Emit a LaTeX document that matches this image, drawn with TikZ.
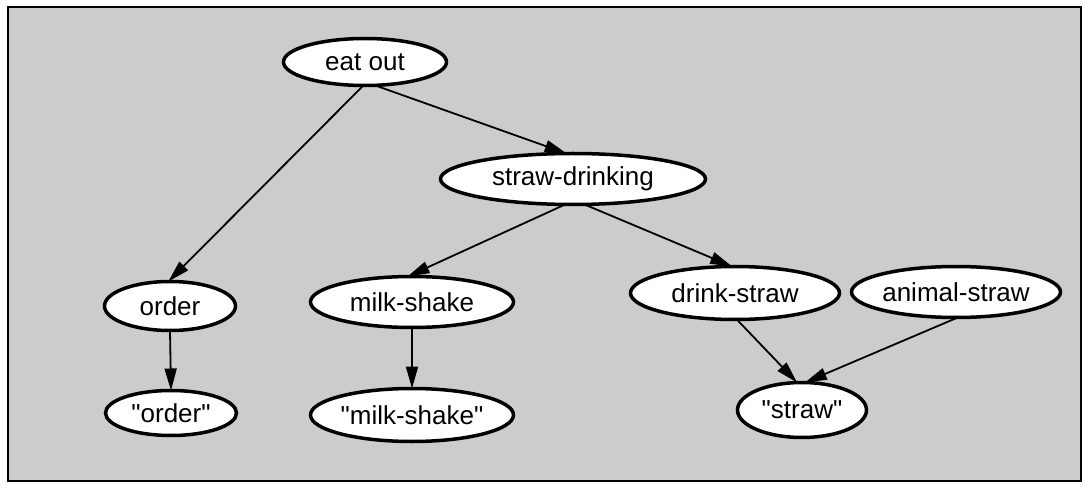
\documentclass[tikz,border=0pt]{standalone}
\usepackage{fontspec}
\setmainfont{Liberation Sans}
\usetikzlibrary{shapes.geometric,arrows.meta}
\definecolor{bggray}{HTML}{CCCCCC}
\tikzset{
  gnode/.style={ellipse, draw=black, fill=white, line width=3.5pt, inner sep=0pt, outer sep=0pt,
    font=\fontsize{26}{30}\selectfont},
  gedge/.style={line width=1.8pt, -{Triangle[length=22pt,width=12pt]}},
}
\begin{document}
\begin{tikzpicture}[x=1pt,y=-1pt]
\useasboundingbox (0,0) rectangle (1090,489);
\draw[fill=bggray, line width=2pt] (8,7) rectangle (1081,481);
\node[gnode, minimum width=163pt, minimum height=47pt] (eatout) at (365,62) {eat out};
\node[gnode, minimum width=265pt, minimum height=51pt] (straw) at (573,179) {straw-drinking};
\node[gnode, minimum width=131pt, minimum height=49pt] (order) at (170,306) {order};
\node[gnode, minimum width=131pt, minimum height=45pt] (qorder) at (171,413) {\textquotedbl order\textquotedbl};
\node[gnode, minimum width=203pt, minimum height=51pt] (milk) at (412,302) {milk-shake};
\node[gnode, minimum width=203pt, minimum height=53pt] (qmilk) at (412,415) {\textquotedbl milk-shake\textquotedbl};
\node[gnode, minimum width=209pt, minimum height=53pt] (drink) at (735,293) {drink-straw};
\node[gnode, minimum width=209pt, minimum height=51pt] (animal) at (956,292) {animal-straw};
\node[gnode, minimum width=129pt, minimum height=55pt] (qstraw) at (802,410) {\textquotedbl straw\textquotedbl};
\draw[gedge] (eatout.-94) -- (order.94);
\draw[gedge] (eatout.-67) -- (straw.104);
\draw[gedge] (straw.-107) -- (milk.100);
\draw[gedge] (straw.-66) -- (drink.96);
\draw[gedge] (order.south) -- (qorder.north);
\draw[gedge] (milk.south) -- (qmilk.north);
\draw[gedge] (drink.-86) -- (qstraw.100);
\draw[gedge] (animal.-86) -- (qstraw.84);
\end{tikzpicture}
\end{document}
